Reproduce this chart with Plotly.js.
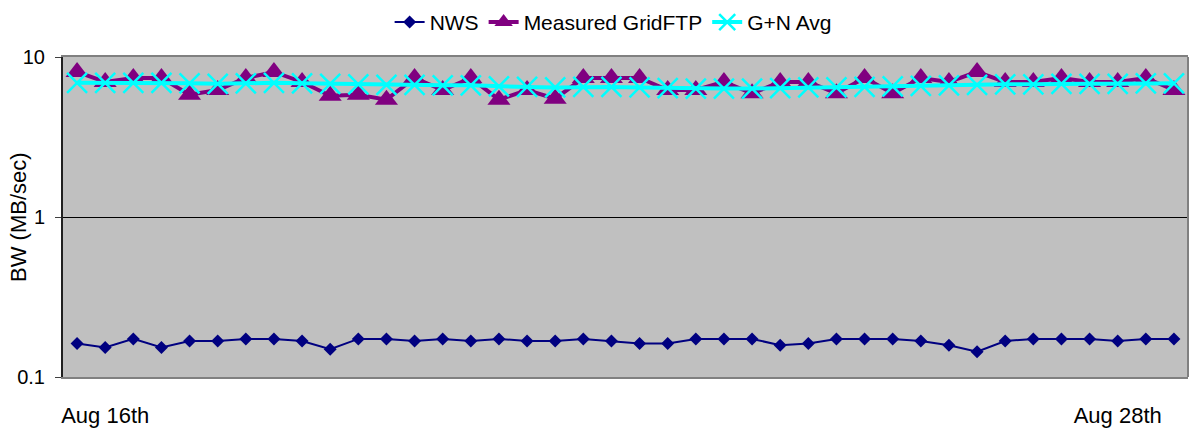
<!DOCTYPE html>
<html>
<head>
<meta charset="utf-8">
<script src="https://cdn.plot.ly/plotly-3.0.1.min.js"></script>
<style>
html,body{margin:0;padding:0;background:#fff;}
#chart{width:1190px;height:431px;}
</style>
</head>
<body>
<div id="chart"></div>
<script>
// Bandwidth samples (MB/sec), 40 measurements Aug 16th - Aug 28th
var nws = [
  0.162, 0.153, 0.173, 0.153, 0.168, 0.168, 0.173, 0.173, 0.168, 0.149,
  0.173, 0.173, 0.168, 0.173, 0.168, 0.173, 0.168, 0.168, 0.173, 0.168,
  0.162, 0.162, 0.173, 0.173, 0.173, 0.158, 0.162, 0.173, 0.173, 0.173,
  0.168, 0.158, 0.144, 0.168, 0.173, 0.173, 0.173, 0.168, 0.173, 0.173
];
var gridftp = [
  8.06, 6.98, 7.39, 7.39, 5.81, 6.22, 7.39, 8.06, 6.98, 5.73,
  5.81, 5.41, 7.39, 6.22, 7.39, 5.41, 6.22, 5.49, 7.39, 7.39,
  7.39, 6.22, 6.22, 6.98, 5.93, 6.98, 6.98, 5.93, 7.39, 5.93,
  7.39, 6.98, 8.06, 6.98, 6.98, 7.39, 6.98, 6.98, 7.39, 6.22
];
var gnAvg = [
  6.90, 6.90, 6.90, 6.90, 6.85, 6.80, 6.85, 6.90, 6.85, 6.80,
  6.75, 6.70, 6.70, 6.65, 6.65, 6.55, 6.50, 6.45, 6.50, 6.50,
  6.45, 6.40, 6.35, 6.35, 6.35, 6.40, 6.45, 6.45, 6.50, 6.55,
  6.60, 6.65, 6.70, 6.75, 6.75, 6.80, 6.80, 6.80, 6.85, 6.85
];
var seriesNames = ["NWS", "Measured GridFTP", "G+N Avg"];
var dateTickIdx = [1, 37];
var dateTickText = ["Aug 16th", "Aug 28th"];
var yTickVals = [0.1, 1, 10];
var yTickText = ["0.1", "1", "10"];
var yTitle = "BW (MB/sec)";

var idx = nws.map(function(_, i){ return i; });
var FONT = "Arial, 'Liberation Sans', sans-serif";

var traces = [
  {
    x: idx, y: nws, name: seriesNames[0], type: "scatter", mode: "lines+markers",
    line: {color: "#000080", width: 2},
    marker: {symbol: "diamond", size: 10, color: "#000080"}
  },
  {
    x: idx, y: gridftp, name: seriesNames[1], type: "scatter", mode: "lines+markers",
    line: {color: "#800080", width: 4},
    marker: {symbol: "triangle-up", size: 20, color: "#800080"}
  },
  {
    x: idx, y: gnAvg, name: seriesNames[2], type: "scatter", mode: "lines+markers",
    line: {color: "#00FFFF", width: 4},
    marker: {symbol: "x-thin", size: 20, color: "#00FFFF", line: {color: "#00FFFF", width: 2.5}}
  }
];

var layout = {
  width: 1190, height: 431,
  margin: {l: 63, r: 2, t: 57, b: 54, pad: 0},
  paper_bgcolor: "#ffffff",
  plot_bgcolor: "#C0C0C0",
  font: {family: FONT, size: 20, color: "#000"},
  showlegend: true,
  legend: {
    orientation: "h", x: 0.489, xanchor: "center", y: 1.172, yanchor: "top",
    font: {family: FONT, size: 21, color: "#000"},
    bgcolor: "rgba(0,0,0,0)", itemwidth: 30, traceorder: "normal"
  },
  xaxis: {
    range: [-0.5, 39.5], fixedrange: true,
    tickmode: "array", tickvals: dateTickIdx, ticktext: dateTickText,
    ticks: "", ticklabelstandoff: 18,
    tickfont: {family: FONT, size: 22, color: "#000"},
    showgrid: false, zeroline: false,
    showline: true, linecolor: "#808080", linewidth: 2, mirror: true
  },
  yaxis: {
    type: "log", range: [-1, 1], fixedrange: true,
    tickmode: "array", tickvals: yTickVals, ticktext: yTickText,
    ticks: "outside", ticklen: 6, tickcolor: "#404040", tickwidth: 1,
    ticklabelstandoff: 6,
    tickfont: {family: FONT, size: 20, color: "#000"},
    showgrid: true, gridcolor: "#000000", gridwidth: 1,
    zeroline: false,
    showline: true, linecolor: "#202020", linewidth: 2
  },
  shapes: [
    {type: "line", xref: "paper", yref: "paper", x0: 1, x1: 1, y0: 0, y1: 1,
     line: {color: "#808080", width: 2}}
  ],
  annotations: [
    {text: yTitle, xref: "paper", yref: "paper", x: -0.04, y: 0.5,
     xanchor: "center", yanchor: "middle", textangle: -90, showarrow: false,
     font: {family: FONT, size: 22, color: "#000"}}
  ]
};

Plotly.newPlot("chart", traces, layout, {displayModeBar: false, staticPlot: true});
</script>
</body>
</html>
